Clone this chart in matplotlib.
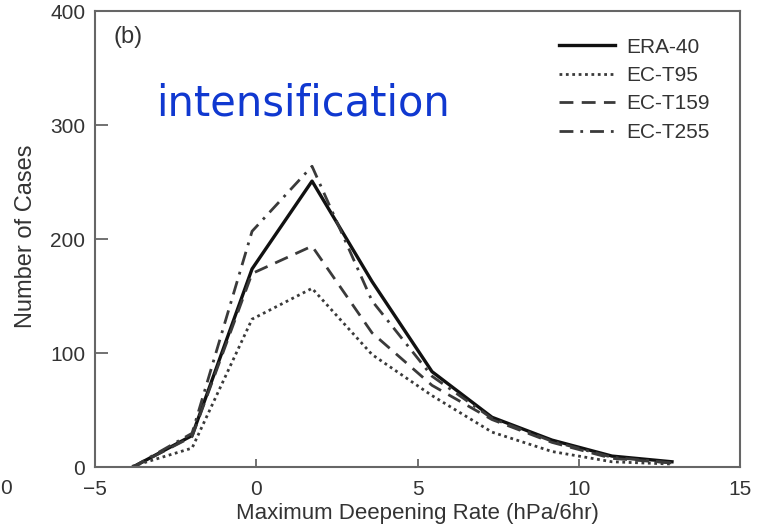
import matplotlib
matplotlib.use("Agg")
import matplotlib.pyplot as plt

# Bin centres of maximum deepening rate (hPa/6hr)
rate = [-3.85, -1.99, -0.13, 1.73, 3.59, 5.45, 7.31, 9.17, 11.03, 12.89]

# Number of cases per bin
era40 = [0, 28, 174, 251, 163, 84, 44, 24, 10, 5]
ec_t95 = [1, 17, 130, 157, 99, 63, 31, 14, 5, 3]
ec_t159 = [0, 27, 170, 194, 118, 72, 42, 22, 8, 4]
ec_t255 = [0, 30, 207, 264, 146, 80, 43, 23, 9, 4]

labels = ["ERA-40", "EC-T95", "EC-T159", "EC-T255"]
x_ticks = [-5, 0, 5, 10, 15]
y_ticks = [0, 100, 200, 300, 400]

plt.rcParams["font.family"] = ["Liberation Sans", "DejaVu Sans"]

fig = plt.figure(figsize=(7.58, 5.28), dpi=100)
ax = fig.add_axes([0.1253, 0.1146, 0.9763 - 0.1253, 0.979 - 0.1146])

grey = "#3a3a3a"
ax.plot(rate, era40, color="#111111", lw=2.4, ls="-", label=labels[0])
ax.plot(rate, ec_t95, color=grey, lw=2.0, ls=(0, (1, 1.3)), label=labels[1])
ax.plot(rate, ec_t159, color=grey, lw=2.0, ls=(0, (5, 3)), label=labels[2])
ax.plot(rate, ec_t255, color=grey, lw=2.0, ls=(0, (5, 2.5, 1, 2.5)), label=labels[3])

ax.set_xlim(-5, 15)
ax.set_ylim(0, 400)
ax.set_xticks(x_ticks)
ax.set_yticks(y_ticks)

for s in ax.spines.values():
    s.set_color("#666666")
    s.set_linewidth(1.5)

ax.tick_params(axis="x", direction="in", length=6, width=1.3, color="#666666",
               pad=9, labelsize=15, labelcolor="#333333")
ax.tick_params(axis="y", direction="in", length=9, width=1.3, color="#666666",
               pad=7, labelsize=15, labelcolor="#333333")

ax.set_xlabel("Maximum Deepening Rate (hPa/6hr)", fontsize=16, color="#333333", labelpad=3)
ax.set_ylabel("Number of Cases", fontsize=17, color="#333333")
ax.yaxis.set_label_coords(-0.09, 0.507)

ax.text(0.028, 0.943, "(b)", transform=ax.transAxes, fontsize=17, color="#333333",
        ha="left", va="center")
ax.text(0.095, 0.797, "intensification", transform=ax.transAxes, fontsize=30,
        color="#1038d0", family=["DejaVu Sans"], ha="left", va="center")

leg = ax.legend(loc="upper left", bbox_to_anchor=(0.707, 0.96), frameon=False,
                fontsize=15, handlelength=2.65, handletextpad=0.55,
                labelspacing=0.45, borderaxespad=0)
for t in leg.get_texts():
    t.set_color("#333333")

fig.text(0.0, (528 - 489) / 528, "0", fontsize=15, color="#333333",
         ha="left", va="center")

fig.savefig("out.png", dpi=100)
